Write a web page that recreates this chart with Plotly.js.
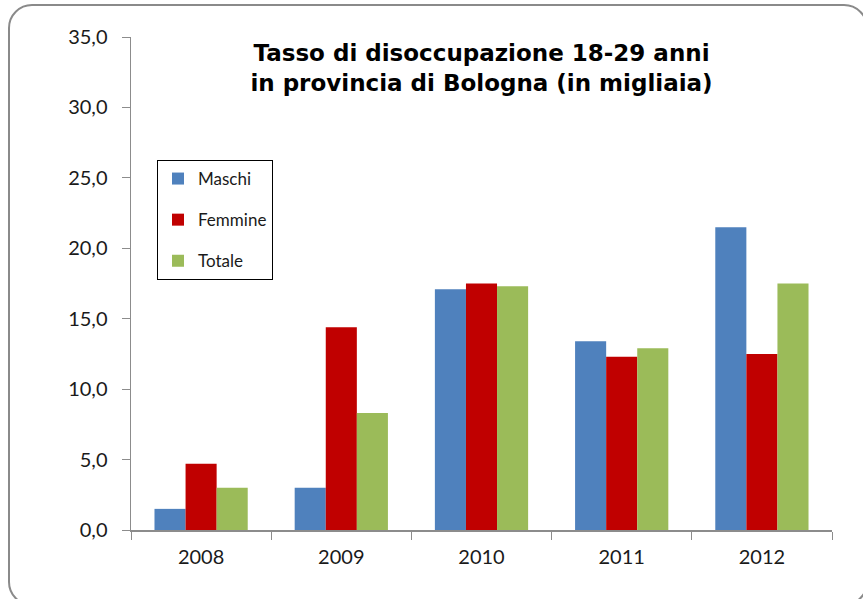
<!DOCTYPE html>
<html>
<head>
<meta charset="utf-8">
<script src="https://cdn.plot.ly/plotly-3.0.1.min.js"></script>
<style>
  html, body { margin: 0; padding: 0; background: #ffffff; }
  #wrap { position: relative; width: 863px; height: 599px; overflow: hidden; }
  #chart { position: absolute; left: 0; top: 0; width: 863px; height: 599px; }
  #frame { position: absolute; left: 8px; top: 4px; width: 856px; height: 598px;
           border: 2px solid #8a8a8a; border-radius: 24px; pointer-events: none; }
</style>
</head>
<body>
<div id="wrap">
  <div id="chart"></div>
  <div id="frame"></div>
</div>
<script>
const years = ['2008', '2009', '2010', '2011', '2012'];
const maschi = [1.5, 3.0, 17.1, 13.4, 21.5];
const femmine = [4.7, 14.4, 17.5, 12.3, 12.5];
const totale = [3.0, 8.3, 17.3, 12.9, 17.5];
const seriesNames = ['Maschi', 'Femmine', 'Totale'];
const yTicks = [0, 5, 10, 15, 20, 25, 30, 35];

const colors = ['#4F81BD', '#C00000', '#9BBB59'];
const values = [maschi, femmine, totale];

const traces = values.map((v, i) => ({
  type: 'bar',
  name: seriesNames[i],
  x: years,
  y: v,
  legendgroup: 'g' + i,
  marker: { color: colors[i], line: { width: 0 } },
  hoverinfo: 'x+y+name'
}));

const layout = {
  width: 863,
  height: 599,
  margin: { l: 131, r: 31, t: 37, b: 69 },
  paper_bgcolor: 'rgba(0,0,0,0)',
  plot_bgcolor: 'rgba(0,0,0,0)',
  separators: ',.',
  barmode: 'group',
  bargap: 0.335,
  bargroupgap: 0,
  font: { family: 'Lato, "Open Sans", sans-serif', color: '#222222' },
  title: {
    text: 'Tasso di disoccupazione 18-29 anni<br>in provincia di Bologna (in migliaia)',
    font: { family: '"DejaVu Sans", Verdana, sans-serif', size: 23, weight: 'bold', color: '#000000' },
    xref: 'paper', x: 0.5, xanchor: 'center',
    yref: 'container', y: 1 - 61 / 599, yanchor: 'top'
  },
  xaxis: {
    type: 'category',
    showline: true,
    linecolor: '#8c8c8c',
    linewidth: 1.5,
    ticks: 'outside',
    tickson: 'boundaries',
    ticklen: 8,
    tickcolor: '#8c8c8c',
    ticklabelstandoff: 8,
    tickfont: { family: 'Lato, sans-serif', size: 20, color: '#1a1a1a' },
    showgrid: false,
    zeroline: false
  },
  yaxis: {
    range: [0, 35],
    tickvals: yTicks,
    tickformat: '.1f',
    showline: true,
    linecolor: '#8c8c8c',
    linewidth: 1.5,
    ticks: 'outside',
    ticklen: 8,
    tickcolor: '#8c8c8c',
    ticklabelstandoff: 10,
    tickfont: { family: 'Lato, sans-serif', size: 20, color: '#1a1a1a' },
    showgrid: false,
    zeroline: false
  },
  showlegend: true,
  legend: {
    x: (157 - 131) / 701,
    xanchor: 'left',
    y: 1 - (160 - 37) / 493,
    yanchor: 'top',
    bgcolor: '#ffffff',
    bordercolor: '#000000',
    borderwidth: 1,
    font: { family: 'Lato, sans-serif', size: 17, color: '#1a1a1a' },
    tracegroupgap: 16,
    itemwidth: 30
  }
};

Plotly.newPlot('chart', traces, layout, { displayModeBar: false, staticPlot: true });
</script>
</body>
</html>
